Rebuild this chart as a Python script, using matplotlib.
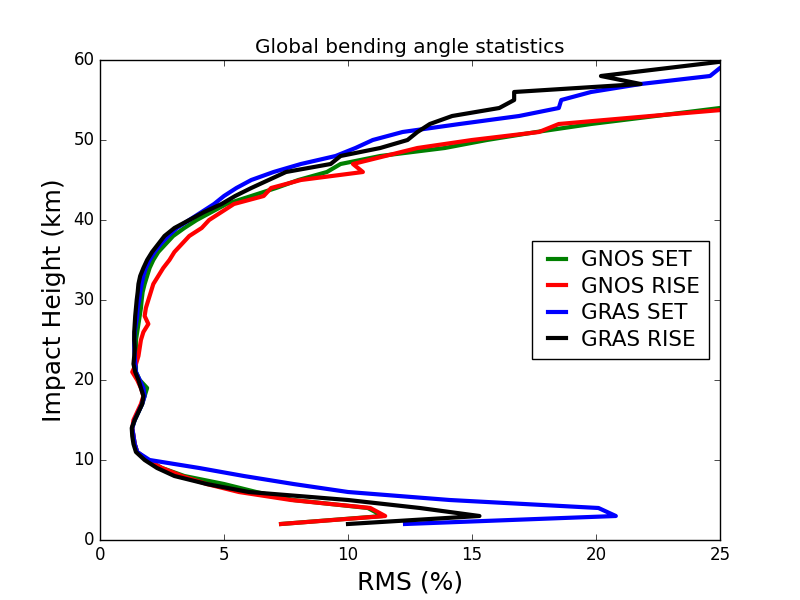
import matplotlib
matplotlib.use('Agg')
import matplotlib.pyplot as plt

plt.style.use('classic')

# impact height levels (km)
height = list(range(2, 61))

gnos_set = [7.3, 11.4, 10.8, 7.8, 6.3, 5.0, 3.4, 2.5, 1.9, 1.5,
            1.4, 1.35, 1.3, 1.4, 1.55, 1.7, 1.8, 1.9, 1.6, 1.45,
            1.45, 1.45, 1.45, 1.45, 1.5, 1.55, 1.6, 1.65, 1.68, 1.72,
            1.8, 1.9, 2.0, 2.15, 2.35, 2.65, 2.95, 3.4, 3.9, 4.5,
            5.1, 6.1, 7.1, 8.0, 9.15, 9.7, 11.3, 13.9, 15.6, 17.6,
            19.8, 22.4, 25.0, 27.5, 30.0, 32.0, 34.0, 36.0, 38.0]

gnos_rise = [7.3, 11.5, 10.9, 7.7, 5.6, 4.3, 3.3, 2.5, 1.9, 1.5,
             1.4, 1.35, 1.3, 1.35, 1.5, 1.65, 1.75, 1.65, 1.5, 1.3,
             1.45, 1.55, 1.6, 1.65, 1.75, 1.95, 1.8, 1.85, 1.95, 2.05,
             2.15, 2.35, 2.55, 2.8, 3.0, 3.3, 3.6, 4.1, 4.4, 4.9,
             5.4, 6.6, 6.9, 8.1, 10.6, 10.2, 11.5, 12.8, 15.0, 17.7,
             18.5, 22.2, 26.0, 28.5, 31.0, 33.0, 35.0, 37.0, 39.0]

gras_set = [12.3, 20.8, 20.1, 14.1, 10.0, 7.8, 5.8, 4.0, 2.0, 1.5,
            1.4, 1.35, 1.3, 1.4, 1.55, 1.7, 1.8, 1.75, 1.6, 1.45,
            1.42, 1.4, 1.38, 1.38, 1.4, 1.45, 1.5, 1.52, 1.58, 1.62,
            1.68, 1.75, 1.85, 2.0, 2.2, 2.45, 2.75, 3.1, 3.6, 4.1,
            4.6, 5.0, 5.5, 6.1, 7.0, 8.1, 9.5, 10.3, 11.0, 12.2,
            14.5, 16.9, 18.5, 18.6, 19.8, 21.8, 24.6, 25.0, 26.0]

gras_rise = [10.0, 15.3, 12.9, 10.0, 6.0, 4.3, 3.0, 2.3, 1.8, 1.45,
             1.35, 1.3, 1.28, 1.4, 1.55, 1.7, 1.75, 1.65, 1.55, 1.42,
             1.35, 1.38, 1.4, 1.38, 1.38, 1.4, 1.42, 1.45, 1.48, 1.52,
             1.55, 1.62, 1.75, 1.9, 2.1, 2.35, 2.6, 3.0, 3.6, 4.2,
             4.9, 5.45, 6.1, 6.8, 7.5, 9.3, 9.7, 11.3, 12.4, 12.8,
             13.3, 14.2, 16.1, 16.7, 16.7, 21.8, 20.2, 22.9, 25.6]

fig = plt.figure(figsize=(8, 6))
ax = fig.add_subplot(111)

ax.plot(gnos_set, height, color='g', lw=3, label='GNOS SET')
ax.plot(gnos_rise, height, color='r', lw=3, label='GNOS RISE')
ax.plot(gras_set, height, color='b', lw=3, label='GRAS SET')
ax.plot(gras_rise, height, color='k', lw=3, label='GRAS RISE')

ax.set_xlim(0, 25)
ax.set_ylim(0, 60)
ax.set_title('Global bending angle statistics', fontsize=14.4)
ax.set_xlabel('RMS (%)', fontsize=18)
ax.set_ylabel('Impact Height (km)', fontsize=18)
ax.legend(loc='center right', fontsize=15.5, handlelength=1.4,
          handletextpad=0.4, labelspacing=0.3, borderpad=0.45)

fig.savefig('out.png', dpi=100)
